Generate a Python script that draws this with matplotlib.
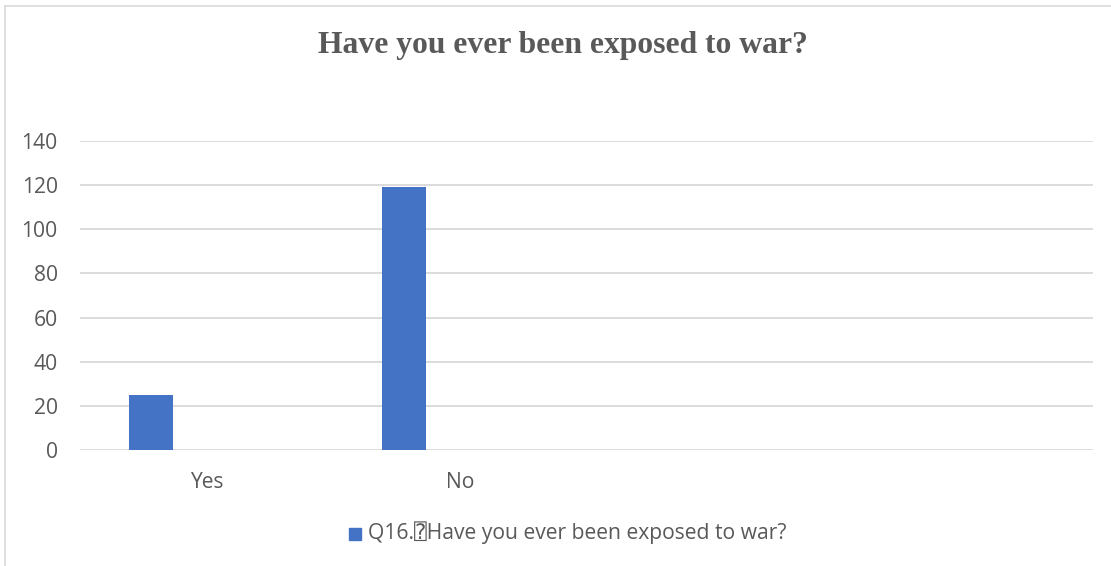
import numpy as np
import matplotlib.pyplot as plt
from matplotlib.lines import Line2D
from matplotlib.patches import Rectangle

categories = ["Yes", "No", "", ""]
counts = [25, 119, 0, 0]
series_name = "Q16.\u2370Have you ever been exposed to war?"
title = "Have you ever been exposed to war?"
yticks = [0, 20, 40, 60, 80, 100, 120, 140]

bar_color = "#4472C4"
text_color = "#595959"
grid_color = "#d9d9d9"
body_font = ["Open Sans", "DejaVu Sans", "DejaVu Sans Mono"]

W, H = 1111, 566
fig = plt.figure(figsize=(W / 100, H / 100), dpi=100)
ax = fig.add_axes([80 / W, 1 - 450 / H, (1093 - 80) / W, (450 - 141) / H])

x = np.arange(len(categories))
ax.bar(x - 0.22, counts, width=0.174, color=bar_color, zorder=3)

ax.set_xlim(-0.5, len(categories) - 0.5)
ax.set_ylim(0, 140)
ax.set_yticks(yticks)
ax.set_xticks(x[:2])
ax.set_xticklabels(categories[:2])
ax.tick_params(length=0, colors=text_color, labelsize=15.2)
ax.tick_params(axis="x", pad=16)
ax.tick_params(axis="y", pad=16)
for lab in ax.get_xticklabels() + ax.get_yticklabels():
    lab.set_family(body_font)
ax.grid(axis="y", color=grid_color, linewidth=1.3, zorder=0)
for s in ax.spines.values():
    s.set_visible(False)

fig.text(563 / W, 1 - 45 / H, title, ha="center", va="center",
         fontsize=22.8, fontweight="bold", family="Liberation Serif", color=text_color)

# legend
fig.patches.append(Rectangle((349 / W, 1 - 540 / H), 12 / W, 12 / H,
                             transform=fig.transFigure, color=bar_color))
fig.text(368 / W, 1 - 533 / H, series_name, ha="left", va="center",
         fontsize=15.2, family=body_font, color=text_color)

# chart border
fig.add_artist(Line2D([5 / W, 5 / W], [0, 1 - 6 / H], transform=fig.transFigure,
                      color="#d9d9d9", linewidth=1.2))
fig.add_artist(Line2D([5 / W, 1], [1 - 6 / H, 1 - 6 / H], transform=fig.transFigure,
                      color="#d9d9d9", linewidth=1.2))

fig.savefig("out.png", dpi=100)
